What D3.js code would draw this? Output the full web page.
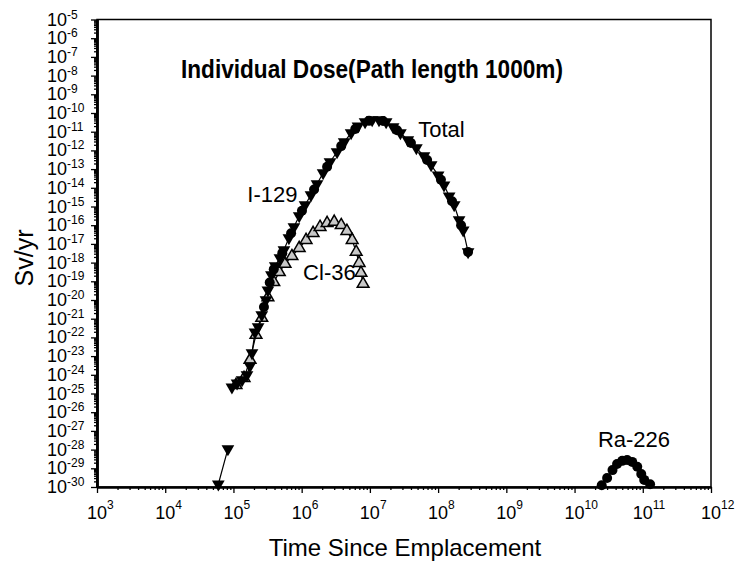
<!DOCTYPE html>
<html>
<head>
<meta charset="utf-8">
<script src="https://cdn.jsdelivr.net/npm/d3@7"></script>
<style>
  body { margin: 0; background: #fff; }
  svg { font-family: "Liberation Sans", Arial, sans-serif; }
</style>
</head>
<body>
<svg id="chart" width="735" height="568"></svg>
<script>
// years since emplacement / dose in Sv/yr (null = break in the line)
var totalTime = [6e4, 8.3e4, null,
    9.5e4, 1.13e5, 1.34e5, 1.58e5, 1.75e5, 1.87e5, 2.07e5, 2.3e5, 2.6e5, 3e5, 3.2e5, 3.6e5,
    4.1e5, 4.8e5, 5.5e5, 6.5e5, 7.7e5, 9.2e5, 1.12e6, 1.37e6, 1.68e6, 2.06e6, 2.6e6, 3.3e6,
    4.2e6, 5.3e6, 6.7e6, 8.5e6, 1.08e7, 1.36e7, 1.73e7, 2.19e7, 2.8e7, 3.6e7, 4.8e7, 6.2e7,
    7.9e7, 1e8, 1.22e8, 1.45e8, 1.72e8, 2.03e8, 2.33e8, 2.75e8];
var totalDose = [1.4e-30, 1.1e-28, null,
    2.2e-25, 3.6e-25, 5.3e-25, 1e-24, 3e-24, 1.5e-23, 1.9e-22, 3.6e-22, 1.6e-21, 1e-20, 3.4e-20, 2.2e-19,
    6.6e-19, 1.8e-18, 4.7e-18, 2.1e-17, 8e-17, 3.1e-16, 1.2e-15, 4.1e-15, 1.6e-14, 6.2e-14, 2.4e-13, 8.2e-13,
    2.8e-12, 8.5e-12, 2e-11, 3.3e-11, 4.3e-11, 4.3e-11, 3.3e-11, 1.8e-11, 8.5e-12, 3.6e-12, 1.35e-12, 5e-13,
    1.65e-13, 4.8e-14, 1.4e-14, 3.6e-15, 1.2e-15, 1.9e-16, 5.5e-17, 3.7e-18];

var i129Time = [2.8e5, 3.4e5, 3.9e5, 5.2e5, 7e5, 1.01e6, 1.52e6, 2.36e6, 3.8e6, 6.1e6, 9.7e6,
    1.56e7, 2.5e7, 4e7, 6.9e7, 1.1e8, 1.6e8, 2.17e8, 2.75e8];
var i129Dose = [4.2e-21, 8.7e-20, 4.4e-19, 3.2e-18, 3.7e-17, 5.9e-16, 8.1e-15, 1.35e-13, 1.7e-12, 1.4e-11, 3.8e-11,
    3.7e-11, 1.2e-11, 2.5e-12, 3.1e-13, 2.7e-14, 1.9e-15, 1e-16, 3.7e-18];

var cl36Time = [1.09e5, 1.43e5, 1.75e5, 2.14e5, 2.6e5, 3.2e5, 3.9e5, 4.7e5, 5.7e5, 7.2e5, 9.2e5, 1.16e6,
    1.47e6, 1.86e6, 2.36e6, 3e6, 3.8e6, 4.6e6, 5.5e6, 6.3e6, 6.95e6, 7.4e6, 7.95e6];
var cl36Dose = [2.8e-25, 6.7e-25, 6.3e-24, 1.35e-22, 1.1e-21, 1.4e-20, 9e-20, 3.1e-19, 8.5e-19, 2.2e-18, 6e-18, 1.6e-17,
    3.8e-17, 8e-17, 1.3e-16, 1.5e-16, 1e-16, 4.9e-17, 1.6e-17, 3.7e-18, 9.5e-19, 2.8e-19, 7.2e-20];

var ra226Time = [2.5e10, 3e10, 3.6e10, 4.2e10, 5e10, 5.9e10, 7e10, 8.3e10, 9.5e10, 1.05e11, 1.28e11];
var ra226Dose = [1.25e-30, 3e-30, 8e-30, 1.7e-29, 2.5e-29, 2.8e-29, 2.2e-29, 1.2e-29, 5e-30, 2.4e-30, 1.4e-30];

var xExponents = d3.range(3, 13);
var yExponents = d3.range(-30, -4);

var seriesLabels = [
    {text: 'Total', t: 5.1e7, v: 5.2e-12},
    {text: 'I-129', t: 1.6e5, v: 1.7e-15},
    {text: 'Cl-36', t: 1.05e6, v: 1.2e-19},
    {text: 'Ra-226', t: 2.2e10, v: 1.4e-28}
];
var title = 'Individual Dose(Path length 1000m)';

(function () {

    function zip(ts, vs) {
        return ts.map(function (t, i) { return {t: t, v: vs[i]}; });
    }

    var svg = d3.select('#chart');
    var x0 = 97, x1 = 711, y0 = 19.5, y1 = 487;

    var x = d3.scaleLog().domain([1e3, 1e12]).range([x0, x1]);
    var y = d3.scaleLog().domain([1e-30, 1e-5]).range([y1, y0]);

    var xMajor = xExponents.map(function (e) { return Math.pow(10, e); });
    var yMajor = yExponents.map(function (e) { return Math.pow(10, e); });
    var xMinor = [], yMinor = [];
    xMajor.slice(0, -1).forEach(function (d) { for (var k = 2; k < 10; k++) xMinor.push(d * k); });
    yMajor.slice(0, -1).forEach(function (d) { for (var k = 2; k < 10; k++) yMinor.push(d * k); });

    // frame
    svg.append('rect')
        .attr('x', x0).attr('y', y0)
        .attr('width', x1 - x0).attr('height', y1 - y0)
        .attr('fill', 'none').attr('stroke', '#000').attr('stroke-width', 1.5);

    function styleAxis(g, w) {
        g.select('.domain').attr('stroke-width', w);
        g.selectAll('.tick line').attr('stroke-width', 1.3);
    }

    svg.append('g').attr('transform', 'translate(0,' + y1 + ')')
        .call(d3.axisBottom(x).tickValues(xMinor).tickSize(3).tickSizeOuter(0).tickFormat(''))
        .call(styleAxis, 2);
    svg.append('g').attr('transform', 'translate(0,' + y1 + ')')
        .call(d3.axisBottom(x).tickValues(xMajor).tickSize(6).tickSizeOuter(0).tickFormat(''))
        .call(styleAxis, 2);
    svg.append('g').attr('transform', 'translate(' + x0 + ',0)')
        .call(d3.axisLeft(y).tickValues(yMinor).tickSize(3).tickSizeOuter(0).tickFormat(''))
        .call(styleAxis, 2.5);
    svg.append('g').attr('transform', 'translate(' + x0 + ',0)')
        .call(d3.axisLeft(y).tickValues(yMajor).tickSize(6).tickSizeOuter(0).tickFormat(''))
        .call(styleAxis, 2.5);

    // tick labels 10^n
    var xl = svg.append('g').attr('font-size', 18);
    xExponents.forEach(function (e) {
        var px = x(Math.pow(10, e));
        xl.append('text').attr('x', px).attr('y', 519).attr('text-anchor', 'middle').text('10');
        xl.append('text').attr('x', px + 10).attr('y', 509).attr('font-size', 12).text(e);
    });
    var yl = svg.append('g').attr('font-size', 18);
    yExponents.forEach(function (e) {
        var py = y(Math.pow(10, e));
        yl.append('text').attr('x', 67).attr('y', py + 6).attr('text-anchor', 'end').text('10');
        yl.append('text').attr('x', 67).attr('y', py - 1).attr('font-size', 12).text(e);
    });

    // axis titles
    svg.append('text').attr('x', 405).attr('y', 556).attr('text-anchor', 'middle')
        .attr('font-size', 24).text('Time Since Emplacement');
    svg.append('text').attr('transform', 'translate(33,258) rotate(-90)').attr('text-anchor', 'middle')
        .attr('font-size', 25).text('Sv/yr');

    svg.append('text').attr('x', 372).attr('y', 78).attr('text-anchor', 'middle')
        .attr('font-size', 26).attr('font-weight', 'bold')
        .attr('textLength', 382).attr('lengthAdjust', 'spacingAndGlyphs')
        .text(title);

    // series
    var line = d3.line()
        .defined(function (d) { return d.v != null; })
        .x(function (d) { return x(d.t); })
        .y(function (d) { return y(d.v); });

    var total = zip(totalTime, totalDose);
    var i129 = zip(i129Time, i129Dose);
    var cl36 = zip(cl36Time, cl36Dose);
    var ra226 = zip(ra226Time, ra226Dose);

    [total, cl36, ra226].forEach(function (s) {
        svg.append('path').datum(s).attr('d', line)
            .attr('fill', 'none').attr('stroke', '#000').attr('stroke-width', 1.2);
    });

    var down = d3.symbol().type(d3.symbolTriangle).size(70);
    var up = d3.symbol().type(d3.symbolTriangle).size(60);

    svg.append('g').selectAll('path').data(cl36).enter().append('path')
        .attr('d', up)
        .attr('transform', function (d) { return 'translate(' + x(d.t) + ',' + y(d.v) + ')'; })
        .attr('fill', '#c8c8c8').attr('stroke', '#000').attr('stroke-width', 1.5);

    svg.append('g').selectAll('circle').data(i129).enter().append('circle')
        .attr('cx', function (d) { return x(d.t); })
        .attr('cy', function (d) { return y(d.v); })
        .attr('r', 5).attr('fill', '#000');

    svg.append('g').selectAll('path').data(total.filter(function (d) { return d.v != null; }))
        .enter().append('path')
        .attr('d', down)
        .attr('transform', function (d) { return 'translate(' + x(d.t) + ',' + y(d.v) + ') rotate(180)'; })
        .attr('fill', '#000');

    svg.append('g').selectAll('circle').data(ra226).enter().append('circle')
        .attr('cx', function (d) { return x(d.t); })
        .attr('cy', function (d) { return y(d.v); })
        .attr('r', 5).attr('fill', '#000');

    svg.append('g').attr('font-size', 22).selectAll('text').data(seriesLabels).enter().append('text')
        .attr('x', function (d) { return x(d.t); })
        .attr('y', function (d) { return y(d.v); })
        .text(function (d) { return d.text; });

}());
</script>
</body>
</html>
